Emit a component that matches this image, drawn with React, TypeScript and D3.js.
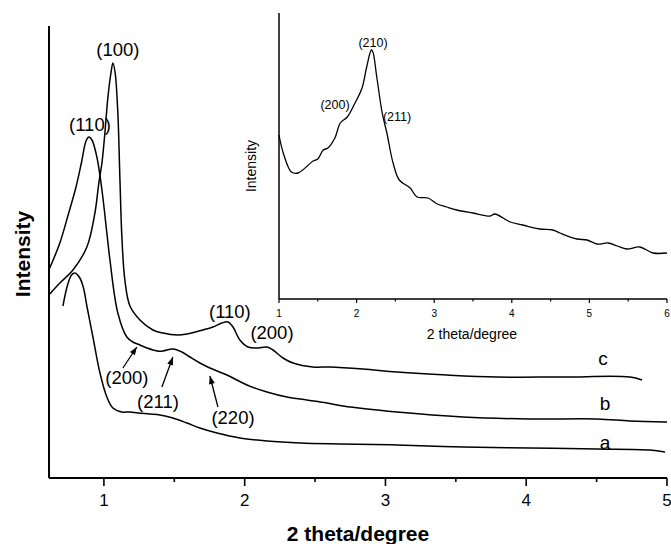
import React from "react";
import * as d3 from "d3";

// Main chart data: 2θ (degree) and intensity (arbitrary units)
const curveA: [number, number][] = [
  [0.709, 172], [0.74, 192], [0.77, 203], [0.794, 205], [0.829, 200], [0.855, 190], [0.879, 172],
  [0.922, 141], [0.972, 105], [1.021, 81], [1.064, 70], [1.128, 66], [1.185, 66],
  [1.242, 65], [1.327, 64], [1.398, 63], [1.49, 60], [1.59, 55], [1.682, 50],
  [1.803, 45], [1.966, 40], [2.158, 37], [2.393, 35], [2.677, 34], [3.082, 33],
  [3.551, 31], [4.027, 30], [4.503, 29], [4.879, 28], [4.986, 26],
];
const curveB: [number, number][] = [
  [0.609, 208], [0.687, 235], [0.75, 265], [0.80, 290], [0.84, 315], [0.873, 337], [0.893, 341], [0.915, 338],
  [0.95, 321], [0.986, 288], [1.021, 245], [1.043, 218], [1.099, 165],
  [1.163, 141], [1.206, 136], [1.256, 133], [1.306, 130], [1.377, 127],
  [1.419, 127], [1.49, 129], [1.554, 126], [1.611, 121], [1.682, 115],
  [1.753, 110], [1.874, 103], [2.016, 93], [2.158, 86], [2.3, 81], [2.442, 78],
  [2.584, 75], [2.698, 72], [3.082, 66], [3.551, 61], [4.027, 59], [4.503, 59],
  [4.737, 57], [5.0, 56],
];
const curveC: [number, number][] = [
  [0.609, 183], [0.687, 195], [0.78, 208], [0.879, 231], [0.936, 265],
  [0.964, 295], [0.986, 315], [1.007, 345], [1.028, 380], [1.05, 405],
  [1.064, 415], [1.08, 405], [1.099, 365], [1.114, 298], [1.128, 240],
  [1.149, 198], [1.185, 172], [1.256, 158], [1.348, 148], [1.419, 145],
  [1.519, 143], [1.59, 144], [1.703, 148], [1.774, 151], [1.838, 155],
  [1.881, 156], [1.917, 151], [1.966, 138], [2.023, 131], [2.087, 130],
  [2.158, 131], [2.201, 128], [2.272, 120], [2.343, 115], [2.485, 111],
  [2.606, 111], [2.84, 109], [3.082, 106], [3.437, 103], [3.792, 101],
  [4.261, 101], [4.737, 101], [4.822, 98],
];

// Inset data
const insetCurve: [number, number][] = [
  [1.0, 164], [1.055, 146], [1.16, 127], [1.245, 126], [1.44, 138], [1.5, 140],
  [1.57, 149], [1.63, 151], [1.72, 161], [1.79, 176], [1.88, 182], [1.98, 196],
  [2.07, 211], [2.13, 232], [2.19, 249], [2.21, 247], [2.26, 222], [2.33, 186],
  [2.39, 166], [2.47, 136], [2.55, 119], [2.69, 111], [2.78, 102], [2.92, 101],
  [3.04, 95], [3.16, 92], [3.29, 89], [3.5, 86], [3.72, 83], [3.78, 85],
  [3.98, 77], [4.14, 74], [4.36, 70], [4.53, 69], [4.62, 66], [4.84, 60],
  [4.97, 59], [5.1, 55], [5.24, 56], [5.36, 53], [5.48, 50], [5.65, 52],
  [5.82, 46], [6.0, 46],
];

const mainTicks = [1, 2, 3, 4, 5];
const mainMinorTicks = [1.5, 2.5, 3.5, 4.5];
const insetTicks = [1, 2, 3, 4, 5, 6];
const insetMinorTicks = [1.5, 2.5, 3.5, 4.5, 5.5];

const peakLabels = [
  { text: "(100)", x: 1.099, y: 428 },
  { text: "(110)", x: 0.901, y: 353 },
  { text: "(110)", x: 1.895, y: 166 },
  { text: "(200)", x: 2.194, y: 145 },
];
const arrowLabels = [
  { text: "(200)", x: 1.163, y: 100, x0: 1.135, y0: 110, x1: 1.234, y1: 131 },
  { text: "(211)", x: 1.384, y: 76, x0: 1.412, y0: 91, x1: 1.49, y1: 121 },
  { text: "(220)", x: 1.917, y: 60, x0: 1.81, y0: 71, x1: 1.753, y1: 102 },
];
const seriesLabels = [
  { text: "c", x: 4.545, y: 120 },
  { text: "b", x: 4.56, y: 75 },
  { text: "a", x: 4.56, y: 36 },
];
const insetLabels = [
  { text: "(210)", x: 2.211, y: 256 },
  { text: "(200)", x: 1.722, y: 194 },
  { text: "(211)", x: 2.521, y: 182 },
];

const FONT = "'Liberation Sans', Arial, Helvetica, sans-serif";

export default function App() {
  const x = d3.scaleLinear().domain([0.61, 5]).range([49, 667]);
  const y = d3.scaleLinear().domain([0, 452]).range([478, 26]);
  const xi = d3.scaleLinear().domain([1, 6]).range([279, 667]);
  const yi = d3.scaleLinear().domain([0, 286]).range([299, 13]);

  const line = d3
    .line<[number, number]>()
    .x((d) => x(d[0]))
    .y((d) => y(d[1]))
    .curve(d3.curveCatmullRom.alpha(0.5));
  const lineI = d3
    .line<[number, number]>()
    .x((d) => xi(d[0]))
    .y((d) => yi(d[1]))
    .curve(d3.curveCatmullRom.alpha(0.5));

  const arrowHead = (a: any) => {
    const X0 = x(a.x0), Y0 = y(a.y0), X1 = x(a.x1), Y1 = y(a.y1);
    const ang = Math.atan2(Y1 - Y0, X1 - X0);
    const L = 8, W = 3;
    const bx = X1 - L * Math.cos(ang), by = Y1 - L * Math.sin(ang);
    const px = -Math.sin(ang) * W, py = Math.cos(ang) * W;
    return `M${X1},${Y1}L${bx + px},${by + py}L${bx - px},${by - py}Z`;
  };

  return (
    <svg
      width={671}
      height={544}
      style={{ position: "absolute", left: 0, top: 0, background: "#fff" }}
      fontFamily={FONT}
    >
      <rect width={671} height={544} fill="#fff" />
      {/* main axes */}
      <line x1={49} x2={49} y1={y.range()[1]} y2={y(0)} stroke="#000" strokeWidth={2} />
      <line x1={49} x2={x(5)} y1={y(0)} y2={y(0)} stroke="#000" strokeWidth={2} />
      {mainTicks.map((t) => (
        <g key={"mt" + t}>
          <line x1={x(t)} x2={x(t)} y1={y(0)} y2={y(0) + 8} stroke="#000" strokeWidth={1.6} />
          <text x={x(t)} y={506} fontSize={17} textAnchor="middle">{t}</text>
        </g>
      ))}
      {mainMinorTicks.map((t) => (
        <line key={"mm" + t} x1={x(t)} x2={x(t)} y1={y(0)} y2={y(0) + 4} stroke="#000" strokeWidth={1.6} />
      ))}
      <text x={358} y={541} fontSize={21} fontWeight="bold" textAnchor="middle">2 theta/degree</text>
      <text
        transform={`translate(30,${254}) rotate(-90)`}
        fontSize={21}
        fontWeight="bold"
        textAnchor="middle"
      >Intensity</text>

      {/* curves */}
      {[curveA, curveB, curveC].map((c, i) => (
        <path key={"c" + i} d={line(c) || ""} fill="none" stroke="#000" strokeWidth={1.5} />
      ))}

      {peakLabels.map((l, i) => (
        <text key={"pl" + i} x={x(l.x)} y={y(l.y)} dy="0.35em" fontSize={18.5} textAnchor="middle">{l.text}</text>
      ))}
      {arrowLabels.map((a, i) => (
        <g key={"al" + i}>
          <text x={x(a.x)} y={y(a.y)} dy="0.35em" fontSize={18.5} textAnchor="middle">{a.text}</text>
          <line x1={x(a.x0)} y1={y(a.y0)} x2={x(a.x1)} y2={y(a.y1)} stroke="#000" strokeWidth={1.3} />
          <path d={arrowHead(a)} fill="#000" />
        </g>
      ))}
      {seriesLabels.map((l, i) => (
        <text key={"sl" + i} x={x(l.x)} y={y(l.y)} dy="0.35em" fontSize={19} textAnchor="middle">{l.text}</text>
      ))}

      {/* inset */}
      <line x1={279} x2={279} y1={13} y2={yi(0)} stroke="#000" strokeWidth={1.5} />
      <line x1={279} x2={xi(6)} y1={yi(0)} y2={yi(0)} stroke="#000" strokeWidth={1.5} />
      {insetTicks.map((t) => (
        <g key={"it" + t}>
          <line x1={xi(t)} x2={xi(t)} y1={yi(0)} y2={yi(0) + 4} stroke="#000" strokeWidth={1.2} />
          <text x={xi(t)} y={317} fontSize={10} textAnchor="middle">{t}</text>
        </g>
      ))}
      {insetMinorTicks.map((t) => (
        <line key={"im" + t} x1={xi(t)} x2={xi(t)} y1={yi(0)} y2={yi(0) + 2.5} stroke="#000" strokeWidth={1.2} />
      ))}
      <text x={472} y={339} fontSize={14} textAnchor="middle">2 theta/degree</text>
      <text transform={`translate(256,166) rotate(-90)`} fontSize={14} textAnchor="middle">Intensity</text>
      <path d={lineI(insetCurve) || ""} fill="none" stroke="#000" strokeWidth={1.3} />
      {insetLabels.map((l, i) => (
        <text key={"il" + i} x={xi(l.x)} y={yi(l.y)} dy="0.35em" fontSize={12.5} textAnchor="middle">{l.text}</text>
      ))}
    </svg>
  );
}
